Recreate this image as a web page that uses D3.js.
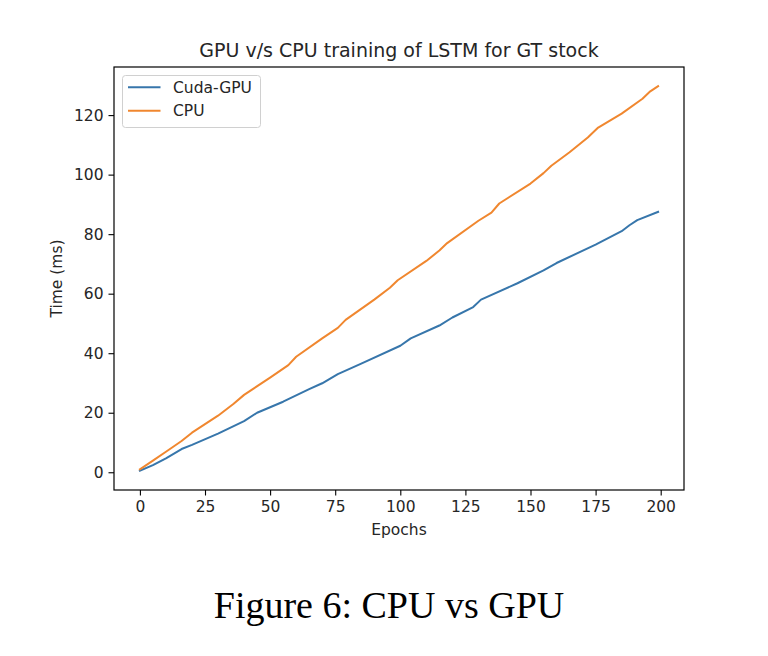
<!DOCTYPE html>
<html>
<head>
<meta charset="utf-8">
<script src="https://cdn.jsdelivr.net/npm/d3@7"></script>
<style>
  html, body { margin: 0; padding: 0; background: #fff; }
  svg { display: block; }
</style>
</head>
<body>
<svg id="chart" width="768" height="656"></svg>
<script>
// ---- Data ----
const chartTitle = "GPU v/s CPU training of LSTM for GT stock";
const xLabel = "Epochs";
const yLabel = "Time (ms)";
const caption = "Figure 6: CPU vs GPU";
const seriesNames = ["Cuda-GPU", "CPU"];

const gpuEpochs = [0, 5, 10, 16, 20, 30, 40, 45, 55, 65, 70, 76, 85, 100, 104, 115, 120, 128, 131, 145, 155, 160, 175, 185, 188, 191, 199];
const gpuTimes  = [0.5, 2.4, 4.7, 7.8, 9.2, 13.0, 17.2, 20.0, 23.7, 27.9, 29.9, 33.0, 36.5, 42.5, 45.0, 49.3, 52.0, 55.5, 58.0, 63.5, 67.8, 70.3, 76.5, 81.0, 83.0, 84.7, 87.5];

const cpuEpochs = [0, 5, 10, 16, 20, 30, 36, 40, 50, 57, 60, 70, 76, 79, 90, 96, 99, 110, 115, 118, 130, 135, 138, 150, 155, 158, 165, 172, 176, 185, 193, 196, 199];
const cpuTimes  = [1.0, 3.9, 6.9, 10.5, 13.3, 19.0, 23.0, 26.0, 31.8, 36.0, 38.8, 45.0, 48.5, 51.2, 58.0, 62.0, 64.5, 71.0, 74.5, 77.0, 84.5, 87.2, 90.3, 97.0, 100.5, 103.0, 107.5, 112.5, 115.8, 120.5, 125.5, 128.0, 129.7];

const xTicks = [0, 25, 50, 75, 100, 125, 150, 175, 200];
const yTicks = [0, 20, 40, 60, 80, 100, 120];

// ---- Layout ----
const svg = d3.select("#chart");
const plot = { left: 114, top: 67, right: 684, bottom: 490 };
const colors = ["#3776ab", "#f0872f"];
const font = "'DejaVu Sans', sans-serif";
const textColor = "#262626";
const smallSize = "15.5px";

const gpu = gpuEpochs.map((e, i) => [e, gpuTimes[i]]);
const cpu = cpuEpochs.map((e, i) => [e, cpuTimes[i]]);
const series = [gpu, cpu];

// matplotlib style 5% margins
const xmin = 0, xmax = 199;
const ymin = d3.min([...gpuTimes, ...cpuTimes]);
const ymax = d3.max([...gpuTimes, ...cpuTimes]);
const xpad = (xmax - xmin) * 0.05, ypad = (ymax - ymin) * 0.05;

const x = d3.scaleLinear().domain([xmin - xpad, xmax + xpad]).range([plot.left, plot.right]);
const y = d3.scaleLinear().domain([ymin - ypad, ymax + ypad]).range([plot.bottom, plot.top]);

// lines
const line = d3.line().x(d => x(d[0])).y(d => y(d[1]));
svg.append("clipPath").attr("id", "clip").append("rect")
  .attr("x", plot.left).attr("y", plot.top)
  .attr("width", plot.right - plot.left).attr("height", plot.bottom - plot.top);

svg.append("g").attr("clip-path", "url(#clip)")
  .selectAll("path").data(series).join("path")
  .attr("d", line)
  .attr("fill", "none")
  .attr("stroke", (d, i) => colors[i])
  .attr("stroke-width", 2)
  .attr("stroke-linejoin", "round")
  .attr("stroke-linecap", "square");

// axes
const xAxis = d3.axisBottom(x).tickValues(xTicks).tickSize(5.5).tickPadding(5).tickSizeOuter(0);
const yAxis = d3.axisLeft(y).tickValues(yTicks).tickSize(5.5).tickPadding(5).tickSizeOuter(0);

const gx = svg.append("g").attr("transform", `translate(0,${plot.bottom})`).call(xAxis);
const gy = svg.append("g").attr("transform", `translate(${plot.left},0)`).call(yAxis);
[gx, gy].forEach(g => {
  g.select(".domain").remove();
  g.selectAll(".tick line").attr("stroke", "#000").attr("stroke-width", 1.1);
  g.selectAll(".tick text").attr("fill", textColor).style("font-family", font).style("font-size", smallSize);
});

// frame
svg.append("rect")
  .attr("x", plot.left).attr("y", plot.top)
  .attr("width", plot.right - plot.left).attr("height", plot.bottom - plot.top)
  .attr("fill", "none").attr("stroke", "#000").attr("stroke-width", 1.2);

// title
svg.append("text")
  .attr("x", (plot.left + plot.right) / 2).attr("y", 56.5)
  .attr("text-anchor", "middle")
  .style("font-family", font).style("font-size", "19px")
  .attr("fill", textColor)
  .text(chartTitle);

// axis labels
svg.append("text")
  .attr("x", (plot.left + plot.right) / 2).attr("y", 535)
  .attr("text-anchor", "middle")
  .style("font-family", font).style("font-size", smallSize)
  .attr("fill", textColor)
  .text(xLabel);

svg.append("text")
  .attr("transform", `translate(62,${(plot.top + plot.bottom) / 2}) rotate(-90)`)
  .attr("text-anchor", "middle")
  .style("font-family", font).style("font-size", smallSize)
  .attr("fill", textColor)
  .text(yLabel);

// legend
const legend = svg.append("g");
legend.append("rect")
  .attr("x", 122.5).attr("y", 75.5).attr("width", 138).attr("height", 52)
  .attr("rx", 3).attr("ry", 3)
  .attr("fill", "#fff").attr("fill-opacity", 0.8)
  .attr("stroke", "#d0d0d0").attr("stroke-width", 1);
seriesNames.forEach((name, i) => {
  const ly = 87.3 + i * 23.5;
  legend.append("line")
    .attr("x1", 128).attr("x2", 160.5).attr("y1", ly).attr("y2", ly)
    .attr("stroke", colors[i]).attr("stroke-width", 2);
  legend.append("text")
    .attr("x", 173).attr("y", ly + 5.5)
    .style("font-family", font).style("font-size", smallSize)
    .attr("fill", textColor)
    .text(name);
});

// caption
svg.append("text")
  .attr("x", 389).attr("y", 618)
  .attr("text-anchor", "middle")
  .style("font-family", "'Liberation Serif', 'Times New Roman', serif")
  .style("font-size", "38px")
  .attr("fill", "#000")
  .text(caption);
</script>
</body>
</html>
